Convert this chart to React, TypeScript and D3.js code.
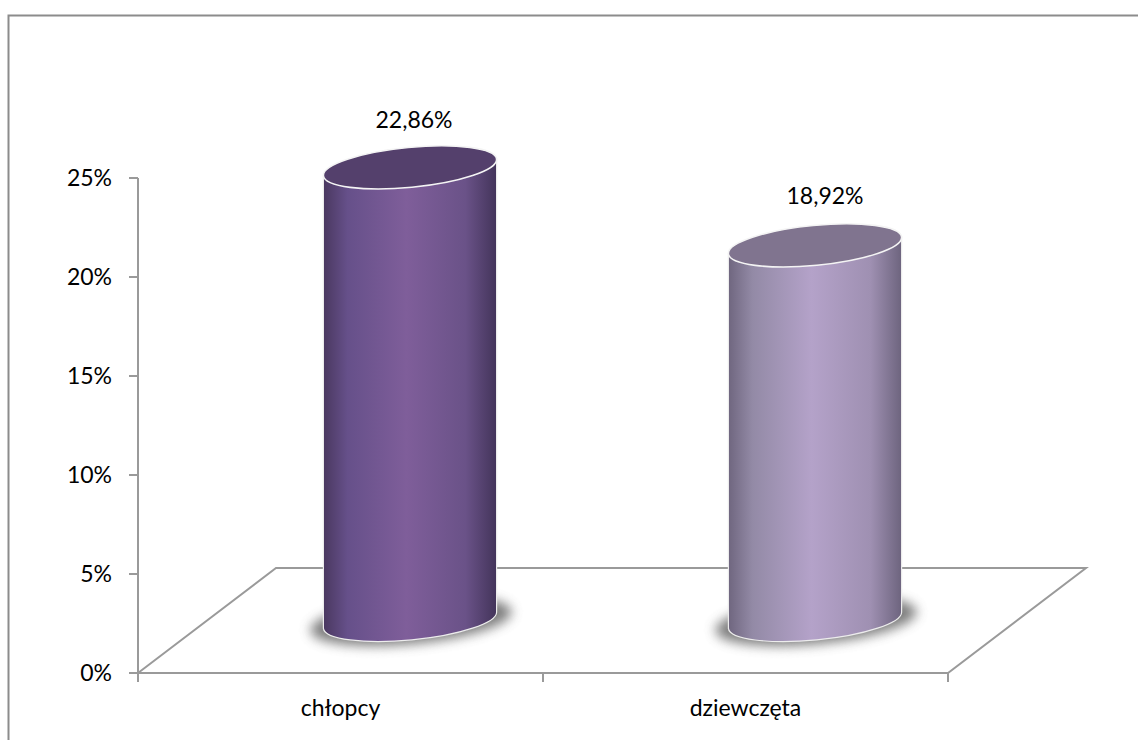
import React from "react";
import * as d3 from "d3";

const categories = ["chłopcy", "dziewczęta"];
const values = [22.86, 18.92];
const labels = ["22,86%", "18,92%"];
const yTicks = [0, 5, 10, 15, 20, 25];
const barStops = [
  ["#4a3860", "#66508a", "#7f5e9a", "#6a5288", "#43345a"],
  ["#6f667f", "#938aa6", "#b4a2c9", "#9f90b2", "#6d647e"],
];
const topFill = ["#54406c", "#80748f"];

const W = 1138, H = 740;
const y = d3.scaleLinear().domain([0, 25]).range([673, 178]);
const x = d3.scaleBand().domain(categories).range([138, 948]);
const dx = 138, dy = -105;
const rx = 87, ry = 20, rot = -5.5;
const barDx = 70, barDy = -53;
const font = "Lato, 'Open Sans', sans-serif";

export default function App() {
  const [x0, x1] = x.range();
  const y0 = y(0);
  const a = (rot * Math.PI) / 180;
  const ex = rx * Math.cos(a), ey = rx * Math.sin(a);
  return (
    <svg width={W} height={H} style={{ position: "absolute", left: 0, top: 0, fontFamily: font }}>
      <defs>
        {categories.map((c, i) => (
          <linearGradient key={c} id={`g${i}`} x1="0" x2="1" y1="0" y2="0">
            {[0, 0.14, 0.48, 0.82, 1].map((o, k) => (
              <stop key={o} offset={o} stopColor={barStops[i][k]} />
            ))}
          </linearGradient>
        ))}
        <filter id="blur" x="-25%" y="-60%" width="150%" height="220%">
          <feGaussianBlur stdDeviation="6" />
        </filter>
      </defs>
      <path d={`M8.5,740V15.5H1138`} fill="none" stroke="#8c8c8c" strokeWidth={2} />
      <g stroke="#9a9a9a" strokeWidth={2} fill="none">
        <path d={`M${x0},${y0}L${x0 + dx},${y0 + dy}L${x1 + dx},${y0 + dy}L${x1},${y0}Z`} />
        <path d={`M${x0},${y(25)}V${y0}`} />
        {yTicks.map((t) => (
          <path key={t} d={`M${x0 - 9},${y(t)}H${x0}`} />
        ))}
        {[x0, (x0 + x1) / 2, x1].map((t) => (
          <path key={t} d={`M${t},${y0}V${y0 + 9}`} />
        ))}
      </g>
      {yTicks.map((t) => (
        <text key={t} x={112} y={y(t) + 8} textAnchor="end" fontSize={23} fill="#000">
          {`${t}%`}
        </text>
      ))}
      {categories.map((c, i) => {
        const cx = x(c)! + x.bandwidth() / 2 + barDx - 0.5;
        const by = y(0) + barDy;
        const ty = y(values[i]) + barDy;
        const left = [cx - ex, by - ey];
        const right = [cx + ex, by + ey];
        const tl = [cx - ex, ty - ey];
        const tr = [cx + ex, ty + ey];
        return (
          <g key={c}>
            <ellipse cx={cx + 1} cy={by + 1} rx={rx + 14} ry={ry + 3} transform={`rotate(${rot} ${cx + 1} ${by + 1})`} fill="#666" opacity={0.85} filter="url(#blur)" />
            <path
              d={`M${tl[0]},${tl[1]}L${left[0]},${left[1]}A${rx},${ry} ${rot} 0 0 ${right[0]},${right[1]}L${tr[0]},${tr[1]}Z`}
              fill={`url(#g${i})`}
              stroke="#ececec"
              strokeWidth={1.2}
            />
            <ellipse cx={cx} cy={ty} rx={rx} ry={ry} transform={`rotate(${rot} ${cx} ${ty})`} fill={topFill[i]} stroke="#f4f4f4" strokeWidth={1.6} />
            <text x={cx + (i === 0 ? 4 : 10)} y={ty - (i === 0 ? 39 : 41)} textAnchor="middle" fontSize={23} fill="#000">{labels[i]}</text>
            <text x={x(c)! + x.bandwidth() / 2} y={716} textAnchor="middle" fontSize={23} fill="#000">{c}</text>
          </g>
        );
      })}
    </svg>
  );
}
